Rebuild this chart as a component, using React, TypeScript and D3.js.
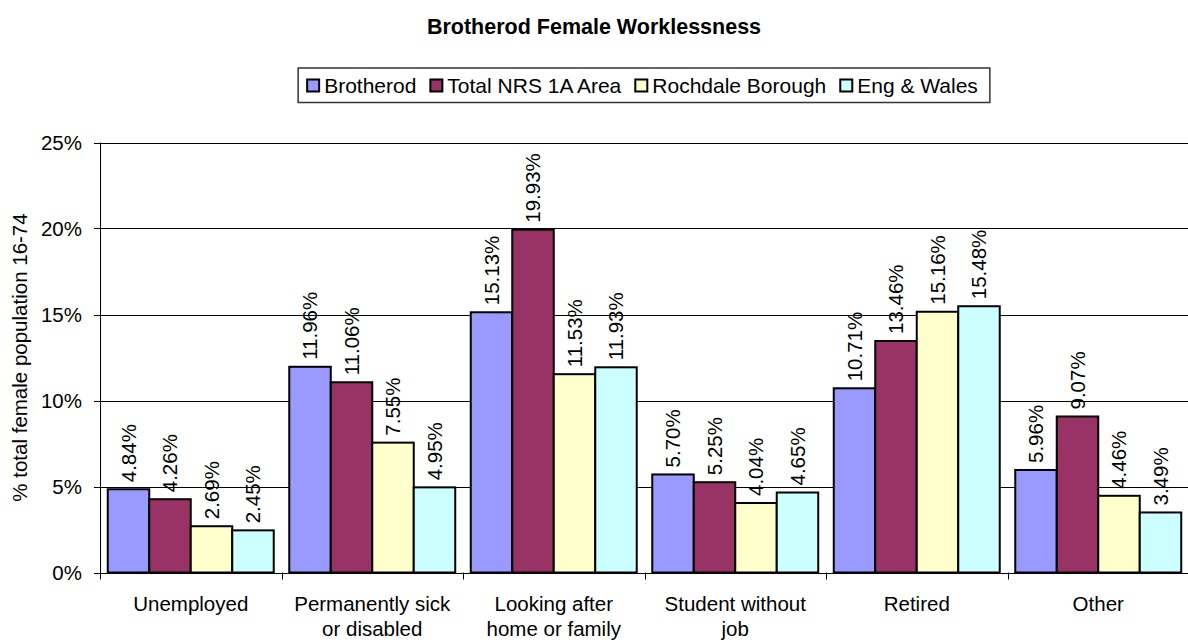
import React, { useEffect, useRef } from "react";
import * as d3 from "d3";

const categories: string[][] = [
  ["Unemployed"],
  ["Permanently sick", "or disabled"],
  ["Looking after", "home or family"],
  ["Student without", "job"],
  ["Retired"],
  ["Other"],
];
const seriesNames = ["Brotherod", "Total NRS 1A Area", "Rochdale Borough", "Eng & Wales"];
const seriesColors = ["#9999FF", "#993366", "#FFFFCC", "#CCFFFF"];
const brotherod = [4.84, 11.96, 15.13, 5.7, 10.71, 5.96];
const totalNRS = [4.26, 11.06, 19.93, 5.25, 13.46, 9.07];
const rochdale = [2.69, 7.55, 11.53, 4.04, 15.16, 4.46];
const engWales = [2.45, 4.95, 11.93, 4.65, 15.48, 3.49];
const yTicks = [0, 5, 10, 15, 20, 25];
const title = "Brotherod Female Worklessness";
const yTitle = "% total female population 16-74";

const W = 1188;
const H = 642;
const FONT = "Arial, 'Liberation Sans', sans-serif";

export default function App() {
  const ref = useRef<SVGSVGElement | null>(null);

  useEffect(() => {
    const svg = d3.select(ref.current);
    svg.selectAll("*").remove();
    const values = [brotherod, totalNRS, rochdale, engWales];

    const left = 100, right = 1189, top = 142.5, bottom = 572.5;
    const x0 = d3.scaleBand<number>().domain(d3.range(categories.length)).range([left, right]).paddingInner(0).paddingOuter(0);
    const x1 = d3.scaleBand<number>().domain(d3.range(seriesNames.length)).range([0, x0.bandwidth()]).paddingInner(0).paddingOuter(0.187);
    const y = d3.scaleLinear().domain([0, 25]).range([bottom, top]);

    svg.append("rect").attr("width", W).attr("height", H).attr("fill", "#fff");

    // title
    svg.append("text").attr("x", 594).attr("y", 33.5).attr("text-anchor", "middle")
      .attr("font-family", FONT).attr("font-weight", "bold").attr("font-size", 21.5).text(title);

    // gridlines
    svg.append("g").selectAll("line").data(yTicks.filter(t => t > 0)).join("line")
      .attr("x1", left).attr("x2", right)
      .attr("y1", d => Math.round(y(d)) + 0.5).attr("y2", d => Math.round(y(d)) + 0.5)
      .attr("stroke", "#000").attr("stroke-width", 1);

    // bars
    const g = svg.append("g");
    values.forEach((vals, si) => {
      g.append("g").selectAll("rect").data(vals).join("rect")
        .attr("x", (d, i) => (x0(i) as number) + (x1(si) as number))
        .attr("y", d => y(d))
        .attr("width", x1.bandwidth())
        .attr("height", d => y(0) - y(d))
        .attr("fill", seriesColors[si]).attr("stroke", "#000").attr("stroke-width", 2);
    });
    // data labels
    values.forEach((vals, si) => {
      g.append("g").selectAll("text").data(vals).join("text")
        .attr("transform", (d, i) => {
          const cx = (x0(i) as number) + (x1(si) as number) + x1.bandwidth() / 2;
          return `translate(${cx},${y(d) - 7}) rotate(-90)`;
        })
        .attr("dy", "0.36em").attr("text-anchor", "start")
        .attr("font-family", FONT).attr("font-size", 20.5)
        .text(d => d.toFixed(2) + "%");
    });

    // axes
    svg.append("line").attr("x1", left + 0.5).attr("x2", left + 0.5).attr("y1", top).attr("y2", bottom + 6).attr("stroke", "#000");
    svg.append("line").attr("x1", left - 6).attr("x2", right).attr("y1", Math.round(bottom) + 0.5).attr("y2", Math.round(bottom) + 0.5).attr("stroke", "#000");
    // y ticks
    const yt = svg.append("g");
    yt.selectAll("line").data(yTicks).join("line")
      .attr("x1", left - 6).attr("x2", left)
      .attr("y1", d => Math.round(y(d)) + 0.5).attr("y2", d => Math.round(y(d)) + 0.5).attr("stroke", "#000");
    yt.selectAll("text").data(yTicks).join("text")
      .attr("x", left - 18).attr("y", d => y(d)).attr("dy", "0.36em").attr("text-anchor", "end")
      .attr("font-family", FONT).attr("font-size", 20.5).text(d => d + "%");
    // x ticks
    const xt = svg.append("g");
    xt.selectAll("line").data(d3.range(categories.length + 1)).join("line")
      .attr("x1", i => Math.round(left + i * x0.step()) + 0.5).attr("x2", i => Math.round(left + i * x0.step()) + 0.5)
      .attr("y1", bottom).attr("y2", bottom + 7).attr("stroke", "#000");
    const cl = xt.selectAll("text").data(categories).join("text")
      .attr("x", (d, i) => (x0(i) as number) + x0.bandwidth() / 2).attr("y", 611)
      .attr("text-anchor", "middle").attr("font-family", FONT).attr("font-size", 20.5);
    cl.selectAll("tspan").data(d => d).join("tspan")
      .attr("x", function () { return (this.parentNode as SVGTextElement).getAttribute("x"); })
      .attr("dy", (d, i) => (i === 0 ? 0 : 25)).text(d => d);

    // y title
    svg.append("text").attr("transform", `translate(26.5,${(top + bottom) / 2}) rotate(-90)`)
      .attr("text-anchor", "middle").attr("font-family", FONT).attr("font-size", 20.5).text(yTitle);

    // legend
    const lg = svg.append("g");
    const box = lg.append("rect").attr("fill", "#fff").attr("stroke", "#333").attr("stroke-width", 1.5);
    const sw = 12, gapT = 5, gapI = 14, padL = 9, padR = 12;
    let cx = 0;
    const items: { x: number; w: number }[] = [];
    seriesNames.forEach((name, i) => {
      const t = lg.append("text").attr("y", 93).attr("font-family", FONT).attr("font-size", 21).text(name);
      const w = (t.node() as SVGTextElement).getComputedTextLength();
      items.push({ x: cx, w });
      t.attr("data-off", cx + sw + gapT);
      cx += sw + gapT + w + (i < seriesNames.length - 1 ? gapI : 0);
    });
    const totalW = padL + cx + padR;
    const boxL = 644 - totalW / 2;
    box.attr("x", boxL).attr("y", 68).attr("width", totalW).attr("height", 34.5);
    lg.selectAll("text").attr("x", function () { return boxL + padL + Number((this as SVGTextElement).getAttribute("data-off")); });
    items.forEach((it, i) => {
      lg.append("rect").attr("x", boxL + padL + it.x).attr("y", 79.5).attr("width", sw).attr("height", sw)
        .attr("fill", seriesColors[i]).attr("stroke", "#000").attr("stroke-width", 2);
    });
  }, []);

  return (
    <div style={{ position: "absolute", left: 0, top: 0 }}>
      <svg ref={ref} width={W} height={H} style={{ display: "block" }} />
    </div>
  );
}
